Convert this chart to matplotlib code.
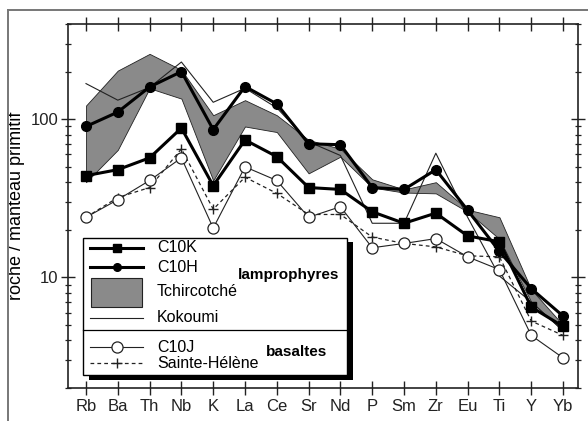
import matplotlib
matplotlib.use("Agg")
import matplotlib.pyplot as plt
from matplotlib.lines import Line2D
from matplotlib.patches import Rectangle
from matplotlib.ticker import LogLocator, NullFormatter
import numpy as np

plt.rcParams.update({
    "font.family": ["Liberation Sans", "DejaVu Sans"],
    "font.size": 10,
})

elements = ["Rb", "Ba", "Th", "Nb", "K", "La", "Ce", "Sr", "Nd", "P", "Sm", "Zr", "Eu", "Ti", "Y", "Yb"]
c10k = [44, 48, 57, 88, 38, 74, 58, 37, 36, 26, 22, 25.5, 18.3, 16.8, 6.5, 4.9]
c10h = [90, 111, 160, 200, 86, 161, 125, 70, 69, 37, 36, 48, 26.6, 14.6, 8.5, 5.7]
c10j = [24, 31, 41, 57, 20.5, 50, 41, 24, 28, 15.4, 16.4, 17.6, 13.5, 11.2, 4.3, 3.1]
sainte_helene = [24, 32, 37, 65, 27, 43, 34, 25, 25, 18, 16.4, 15.6, 13.7, 13.5, 5.3, 4.3]
kokoumi = [168, 132, 159, 230, 128, 157, 118, 72, 59, 22, 22, 61, 24, 10.2, 7.0, 4.6]
tchir_max = [122, 203, 259, 205, 106, 132, 106, 74, 65, 41.7, 36, 40, 26.8, 24, 8.4, 5.0]
tchir_min = [40, 64, 157, 135, 41, 90, 83, 45.5, 58, 37, 34.4, 34, 26, 17.5, 7.0, 4.6]

GRAY = "#8a8a8a"

fig = plt.figure(figsize=(5.88, 4.21), dpi=100)
ax = fig.add_axes([68 / 588, 33 / 421, 510 / 588, 364 / 421])
x = np.arange(len(elements))

ax.fill_between(x, tchir_min, tchir_max, facecolor=GRAY, edgecolor="#222222", lw=0.6, zorder=1)
ax.plot(x, kokoumi, color="#222222", lw=0.8, zorder=2)
ax.plot(x, sainte_helene, color="#222222", lw=0.9, ls=(0, (3, 2.5)),
        marker="+", ms=7, mew=1.0, zorder=3)
ax.plot(x, c10j, color="#222222", lw=0.8, marker="o", ms=8, mfc="white",
        mec="#222222", mew=0.9, zorder=4)
ax.plot(x, c10k, color="black", lw=2.2, marker="s", ms=7, zorder=5)
ax.plot(x, c10h, color="black", lw=2.2, marker="o", ms=7, zorder=6)

ax.set_yscale("log")
ax.set_ylim(2, 400)
ax.set_xlim(-0.566, 15.47)
ax.set_xticks(x)
ax.set_xticklabels(elements, fontsize=12)
ax.set_yticks([10, 100])
ax.set_yticklabels(["10", "100"], fontsize=12)
ax.yaxis.set_minor_locator(LogLocator(base=10, subs=np.arange(2, 10)))
ax.yaxis.set_minor_formatter(NullFormatter())
ax.tick_params(which="major", direction="inout", length=9.5, width=1.0,
               top=True, right=True, colors="#222222", pad=2)
ax.tick_params(which="minor", direction="inout", length=4.5, width=0.9,
               left=True, right=True, colors="#222222")
ax.tick_params(axis="x", pad=3.5)
for s in ax.spines.values():
    s.set_linewidth(1.2)
    s.set_color("#222222")
ax.set_ylabel("roche / manteau primitif", fontsize=13, labelpad=4)

# figure frame (only left/top edges visible in the crop)
fig.add_artist(Line2D([8 / 588, 8 / 588], [0, 1 - 10 / 421], transform=fig.transFigure,
                      color="#777777", lw=1.4))
fig.add_artist(Line2D([8 / 588, 1], [1 - 10 / 421, 1 - 10 / 421], transform=fig.transFigure,
                      color="#777777", lw=1.4))

# legend built by hand: two groups separated by a rule
def fx(px):
    return (px - 68) / 510

def fy(py):
    return (388 - py) / 364

T = ax.transAxes
ax.add_patch(Rectangle((fx(89), fy(380)), fx(353) - fx(89), fy(242) - fy(380),
                       transform=T, facecolor="black", edgecolor="none", zorder=10))
ax.add_patch(Rectangle((fx(83), fy(375)), fx(347) - fx(83), fy(238) - fy(375),
                       transform=T, facecolor="white", edgecolor="black", lw=1.0, zorder=11))
ax.add_artist(Line2D([fx(83), fx(347)], [fy(330), fy(330)], transform=T,
                     color="black", lw=0.9, zorder=12))

hx = [fx(90), fx(143)]
ax.add_artist(Line2D(hx, [fy(248)] * 2, transform=T, color="black", lw=2.2, zorder=12))
ax.add_artist(Line2D([fx(117)], [fy(248)], transform=T, marker="s", ms=6, color="black", zorder=13))
ax.add_artist(Line2D(hx, [fy(267)] * 2, transform=T, color="black", lw=2.2, zorder=12))
ax.add_artist(Line2D([fx(117)], [fy(267)], transform=T, marker="o", ms=5.5, color="black", zorder=13))
ax.add_patch(Rectangle((fx(91), fy(307)), fx(142) - fx(91), fy(278) - fy(307), transform=T,
                       facecolor=GRAY, edgecolor="#222222", lw=0.8, zorder=12))
ax.add_artist(Line2D(hx, [fy(318)] * 2, transform=T, color="#222222", lw=0.8, zorder=12))
ax.add_artist(Line2D(hx, [fy(347)] * 2, transform=T, color="#222222", lw=0.8, zorder=12))
ax.add_artist(Line2D([fx(117)], [fy(347)], transform=T, marker="o", ms=8, mfc="white",
                     mec="#222222", mew=0.9, zorder=13))
ax.add_artist(Line2D(hx, [fy(363)] * 2, transform=T, color="#222222", lw=0.9,
                     ls=(0, (3, 2.5)), zorder=12))
ax.add_artist(Line2D([fx(117)], [fy(363)], transform=T, marker="+", ms=7, mew=1.0,
                     color="#222222", zorder=13))

labels = [("C10K", 248), ("C10H", 267), ("Tchircotché", 292), ("Kokoumi", 318),
          ("C10J", 347), ("Sainte-Hélène", 363)]
for txt, py in labels:
    ax.text(fx(157), fy(py), txt, transform=T, ha="left", va="center", fontsize=11.5, zorder=13)
ax.text(fx(238), fy(275), "lamprophyres", transform=T, ha="left", va="center",
        fontsize=11, fontweight="bold", zorder=13)
ax.text(fx(266), fy(352), "basaltes", transform=T, ha="left", va="center",
        fontsize=11, fontweight="bold", zorder=13)

fig.savefig("out.png", dpi=100)
